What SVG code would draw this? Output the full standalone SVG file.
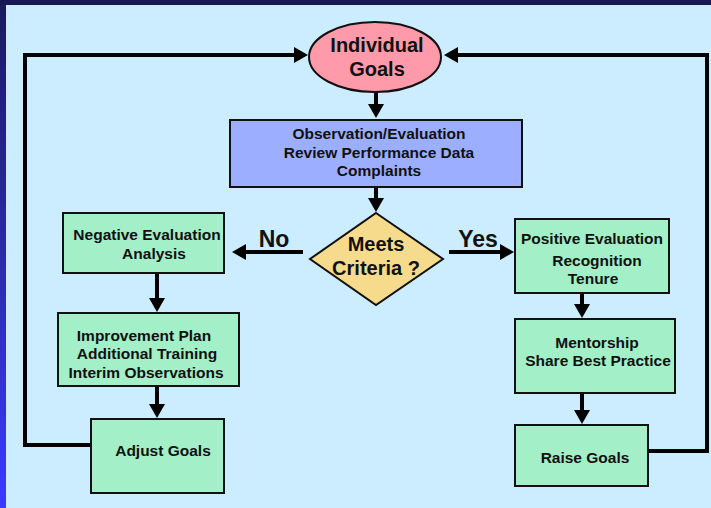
<svg xmlns="http://www.w3.org/2000/svg" width="711" height="508" viewBox="0 0 711 508">
  <defs>
    <linearGradient id="frame" x1="0" y1="0" x2="0" y2="1">
      <stop offset="0" stop-color="#1a1a5c"/>
      <stop offset="1" stop-color="#3a3aff"/>
    </linearGradient>
    <marker id="ah" markerUnits="userSpaceOnUse" markerWidth="14" markerHeight="16" viewBox="0 0 14 16" refX="2" refY="8" orient="auto">
      <path d="M0,0 L14,8 L0,16 z" fill="#000"/>
    </marker>
    <style>
      .box { fill: #a2efc8; stroke: #111; stroke-width: 2; }
      .t { font-family: "Liberation Sans", Arial, sans-serif; font-weight: bold; font-size: 15.5px; fill: #111; text-anchor: middle; }
      .big { font-size: 20px; }
      .lbl { font-size: 23px; }
      .conn { fill: none; stroke: #000; stroke-width: 4; }
    </style>
  </defs>

  <rect x="0" y="0" width="711" height="508" fill="url(#frame)"/>
  <rect x="0" y="0" width="711" height="5" fill="#171755"/>
  <rect x="6" y="5" width="705" height="503" fill="#ccecff"/>

  <g id="connectors">
    <line class="conn" x1="376" y1="92" x2="376" y2="106" marker-end="url(#ah)"/>
    <line class="conn" x1="376" y1="187" x2="376" y2="200" marker-end="url(#ah)"/>
    <line class="conn" x1="303" y1="252" x2="244" y2="252" marker-end="url(#ah)"/>
    <line class="conn" x1="449" y1="252" x2="502" y2="252" marker-end="url(#ah)"/>
    <line class="conn" x1="157" y1="273" x2="157" y2="300" marker-end="url(#ah)"/>
    <line class="conn" x1="157" y1="386" x2="157" y2="406" marker-end="url(#ah)"/>
    <line class="conn" x1="582" y1="293" x2="582" y2="306" marker-end="url(#ah)"/>
    <line class="conn" x1="582" y1="393" x2="582" y2="412" marker-end="url(#ah)"/>
    <polyline class="conn" points="91,445 25,445 25,55 296,55" marker-end="url(#ah)"/>
    <polyline class="conn" points="648,451 707,451 707,55 456,55" marker-end="url(#ah)"/>
    <text class="t lbl" x="274" y="247">No</text>
    <text class="t lbl" x="478" y="247">Yes</text>
  </g>

  <g id="goals">
    <ellipse cx="375" cy="57" rx="66" ry="35" fill="#ff9aaa" stroke="#111" stroke-width="2"/>
    <text class="t big" x="377" y="52">Individual</text>
    <text class="t big" x="377" y="76">Goals</text>
  </g>

  <g id="observation">
    <rect x="230" y="120" width="292" height="67" fill="#9caeff" stroke="#111" stroke-width="2"/>
    <text class="t" x="379" y="139">Observation/Evaluation</text>
    <text class="t" x="379" y="158">Review Performance Data</text>
    <text class="t" x="379" y="176">Complaints</text>
  </g>

  <g id="criteria">
    <polygon points="376,213 443,259 376,305 310,259" fill="#f7db8c" stroke="#111" stroke-width="2"/>
    <text class="t big" x="376" y="251">Meets</text>
    <text class="t big" x="376" y="275">Criteria ?</text>
  </g>

  <g id="negative">
    <rect class="box" x="63" y="213" width="161" height="60"/>
    <text class="t" x="147" y="240">Negative Evaluation</text>
    <text class="t" x="154" y="259">Analysis</text>
  </g>

  <g id="improvement">
    <rect class="box" x="58" y="313" width="181" height="73"/>
    <text class="t" x="144" y="341">Improvement Plan</text>
    <text class="t" x="147" y="359">Additional Training</text>
    <text class="t" x="146" y="378">Interim Observations</text>
  </g>

  <g id="adjust">
    <rect class="box" x="91" y="419" width="133" height="74"/>
    <text class="t" x="163" y="456">Adjust Goals</text>
  </g>

  <g id="positive">
    <rect class="box" x="515" y="219" width="154" height="74"/>
    <text class="t" x="592" y="244">Positive Evaluation</text>
    <text class="t" x="597" y="266">Recognition</text>
    <text class="t" x="593" y="284">Tenure</text>
  </g>

  <g id="mentorship">
    <rect class="box" x="515" y="319" width="160" height="74"/>
    <text class="t" x="597" y="348">Mentorship</text>
    <text class="t" x="598" y="366">Share Best Practice</text>
  </g>

  <g id="raise">
    <rect class="box" x="515" y="425" width="133" height="61"/>
    <text class="t" x="585" y="463">Raise Goals</text>
  </g>
</svg>
